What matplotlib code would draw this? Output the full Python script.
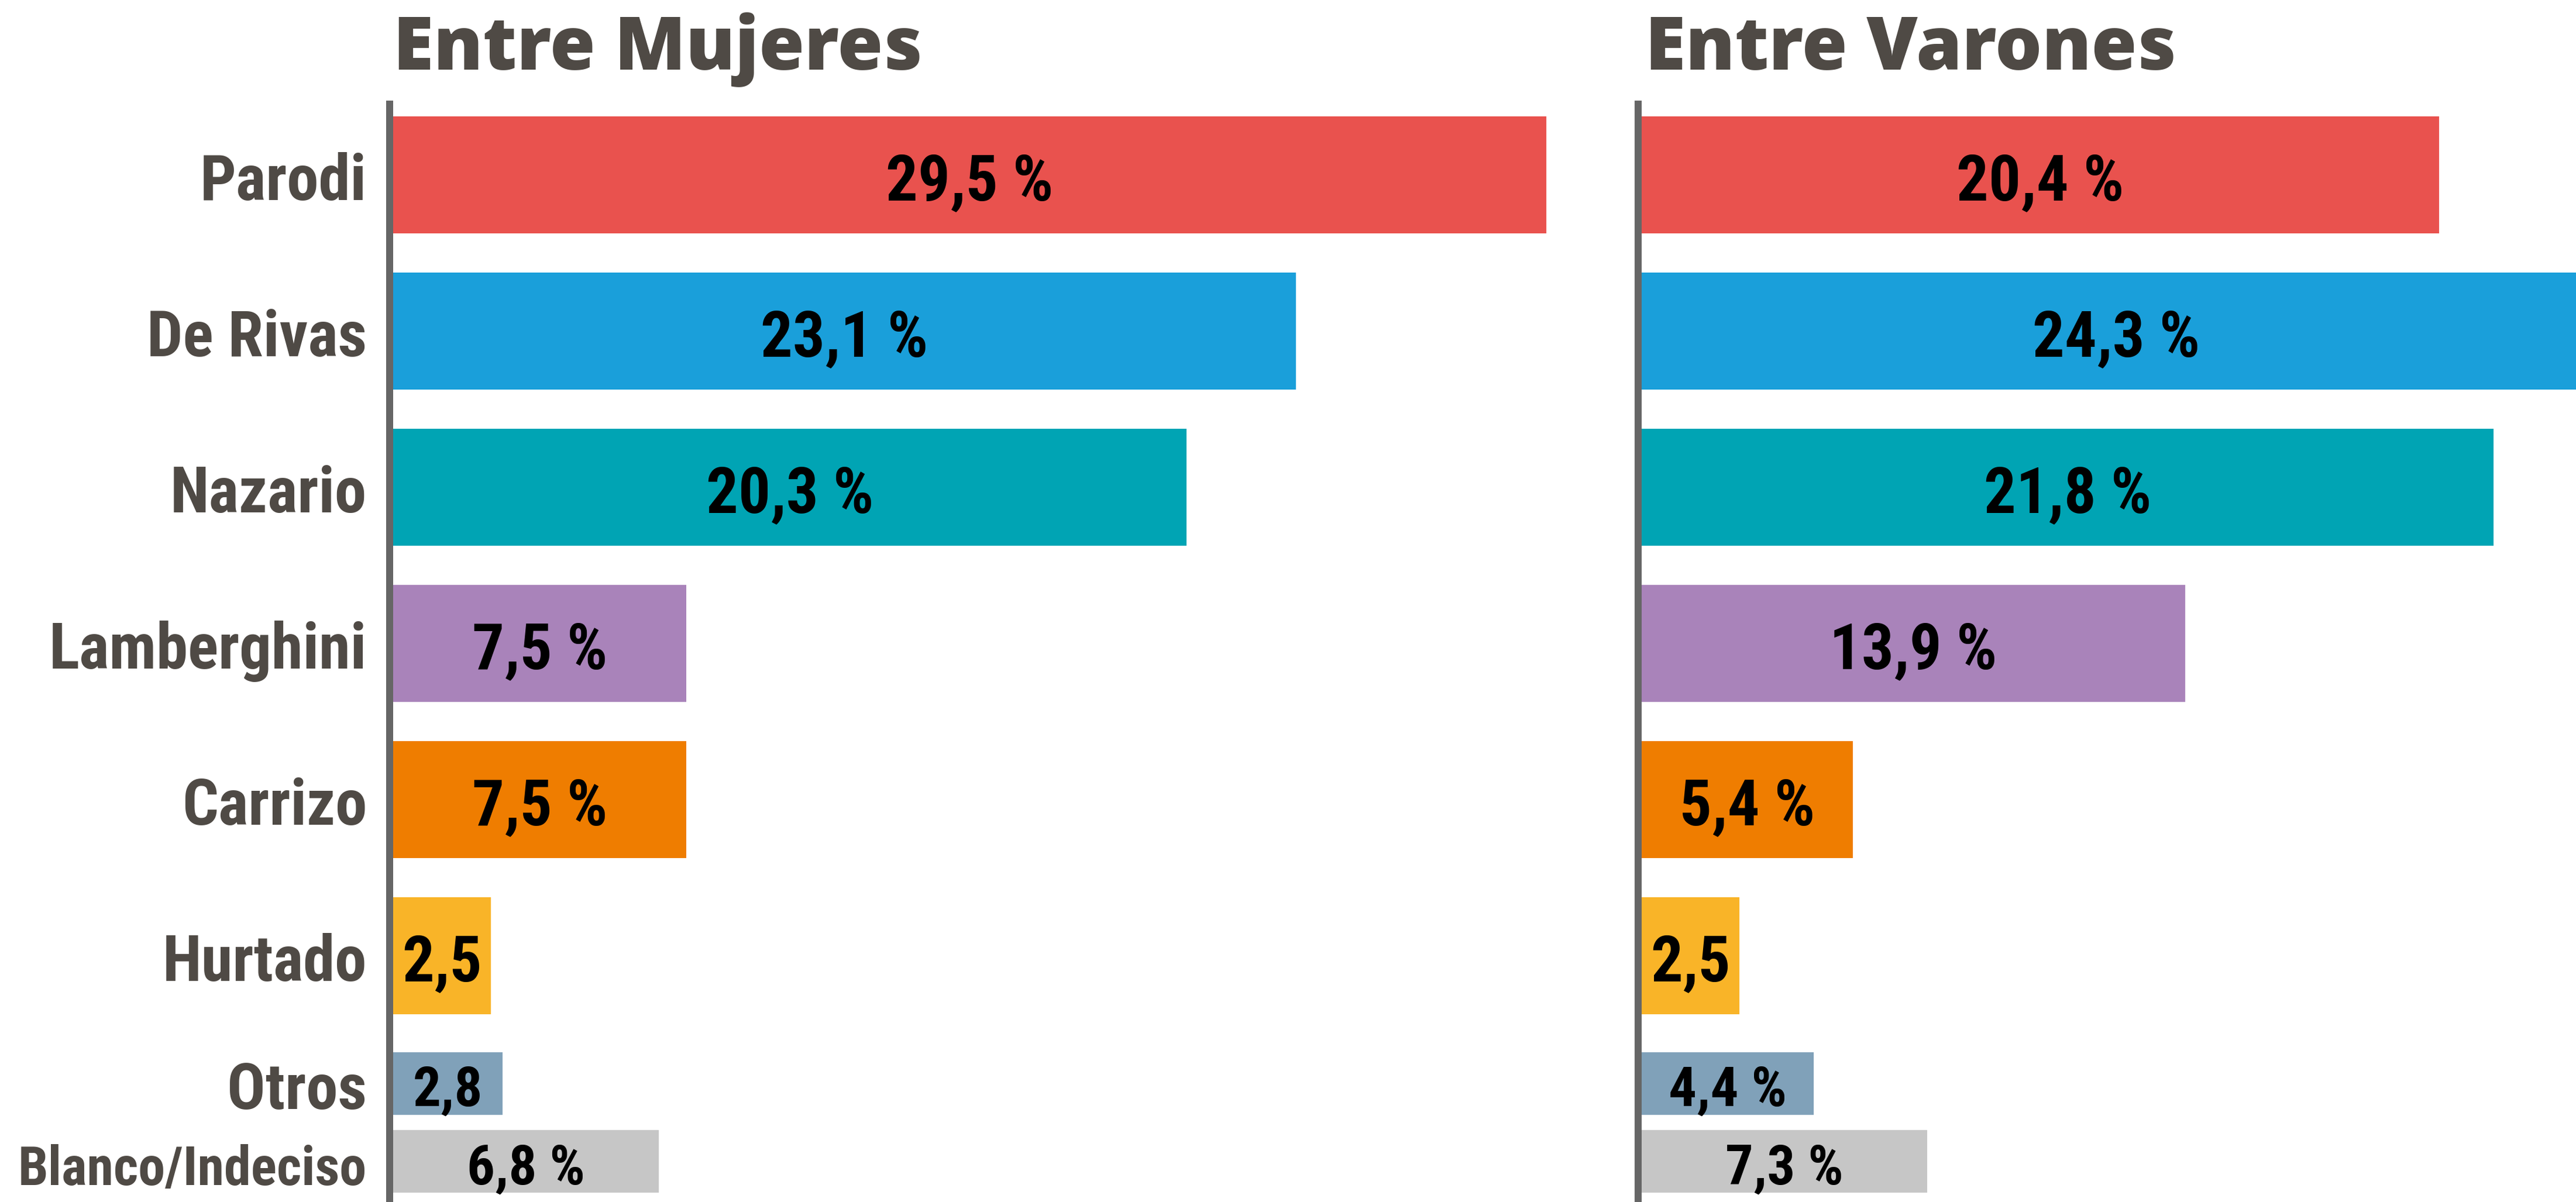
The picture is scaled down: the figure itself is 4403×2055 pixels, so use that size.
import matplotlib
matplotlib.use("Agg")
import matplotlib.pyplot as plt
from matplotlib import font_manager
from matplotlib.lines import Line2D

# ---------------- data ----------------
categories = ["Parodi", "De Rivas", "Nazario", "Lamberghini", "Carrizo",
              "Hurtado", "Otros", "Blanco/Indeciso"]
mujeres = [29.5, 23.1, 20.3, 7.5, 7.5, 2.5, 2.8, 6.8]
varones = [20.4, 24.3, 21.8, 13.9, 5.4, 2.5, 4.4, 7.3]
mujeres_labels = ["29,5 %", "23,1 %", "20,3 %", "7,5 %", "7,5 %", "2,5", "2,8", "6,8 %"]
varones_labels = ["20,4 %", "24,3 %", "21,8 %", "13,9 %", "5,4 %", "2,5", "4,4 %", "7,3 %"]
titles = ["Entre Mujeres", "Entre Varones"]

# ---------------- layout (pixels) ----------------
W, H = 4403, 2055
row_y = [299, 566, 833, 1100, 1367, 1634, 1852, 1985]
row_h = [200, 200, 200, 200, 200, 200, 107, 107]
val_size = [78, 78, 78, 78, 78, 78, 68, 68]
base_off = [43, 43, 43, 43, 43, 43, 39, 40]
label_off = [43, 43, 43, 43, 43, 43, 44, 41]
label_size = [78, 78, 78, 78, 78, 78, 78, 66]
px_per_unit = 66.8
colors = ["#E9524E", "#1A9FDA", "#00A4B4", "#A983BA", "#EF7D00",
          "#F9B428", "#80A1B9", "#C6C6C6"]
text_dark = "#4F4A45"
axis_gray = "#666666"


def pick(names):
    avail = {f.name for f in font_manager.fontManager.ttflist}
    for n in names:
        if n in avail:
            return n
    return "DejaVu Sans"


title_font = pick(["Open Sans", "Roboto", "Liberation Sans", "DejaVu Sans"])
label_font = pick(["Roboto Condensed", "Liberation Sans Narrow", "Roboto", "Liberation Sans"])

fig = plt.figure(figsize=(W / 100, H / 100), dpi=100)
fig.patch.set_facecolor("white")

panels = [
    (672, 2794, mujeres, mujeres_labels, True, 672),
    (2806, W, varones, varones_labels, False, 2812),
]

for idx, (x0, x1, vals, labs, show_cats, tx) in enumerate(panels):
    ax = fig.add_axes([x0 / W, 0, (x1 - x0) / W, 1])
    ax.set_xlim(0, (x1 - x0) / px_per_unit)
    ax.set_ylim(H, 0)
    ax.barh(row_y, vals, height=row_h, color=colors, align="center", linewidth=0)
    for v, lab, y, fs, bo in zip(vals, labs, row_y, val_size, base_off):
        ax.text(v / 2, y + bo, lab, ha="center", va="baseline",
                fontsize=fs / 0.716 * 0.72, fontweight="bold",
                family=label_font, color="black")
    if show_cats:
        for c, y, lo, ls in zip(categories, row_y, label_off, label_size):
            ax.text(-45 / px_per_unit, y + lo, c,
                    ha="right", va="baseline", fontsize=ls / 0.716 * 0.72,
                    fontweight="bold", family=label_font, color=text_dark,
                    clip_on=False)
    ax.set_xticks([])
    ax.set_yticks([])
    for s in ax.spines.values():
        s.set_visible(False)
    ax.patch.set_alpha(0)
    # vertical axis line
    lx = (x0 - 6) / W
    fig.add_artist(Line2D([lx, lx], [1 - 172 / H, 0], transform=fig.transFigure,
                          color=axis_gray, linewidth=12 * 0.72, solid_capstyle="butt"))
    fig.text(tx / W, 1 - 119 / H, titles[idx], ha="left", va="baseline",
             fontsize=90 / 0.714 * 0.72, fontweight="heavy", family=title_font,
             color=text_dark)

fig.savefig("out.png", dpi=100, facecolor="white")
